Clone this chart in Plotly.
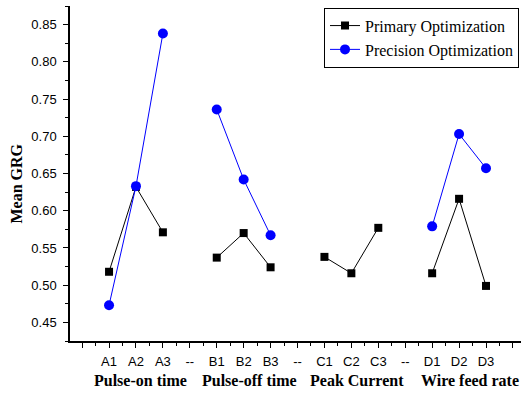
import plotly.graph_objects as go

# ---- data ----
categories = ["A1", "A2", "A3", "--", "B1", "B2", "B3", "--", "C1", "C2", "C3", "--", "D1", "D2", "D3"]
primary = [0.518, 0.632, 0.571, None, 0.537, 0.570, 0.524, None, 0.538, 0.516, 0.577, None, 0.516, 0.616, 0.499]
precision = [0.473, 0.633, 0.838, None, 0.736, 0.642, 0.567, None, None, None, None, None, 0.579, 0.703, 0.657]
group_labels = ["Pulse-on time", "Pulse-off time", "Peak Current", "Wire feed rate"]
group_label_pos = [1.15, 5.2, 9.2, 13.4]
y_ticks = [0.45, 0.50, 0.55, 0.60, 0.65, 0.70, 0.75, 0.80, 0.85]

xs = list(range(len(categories)))
tick_vals = [-1] + xs + [15]
tick_text = [""] + categories + [""]

fig = go.Figure()
fig.add_trace(go.Scatter(
    x=xs, y=primary, mode="lines+markers", name="Primary Optimization",
    line=dict(color="black", width=1),
    marker=dict(symbol="square", size=8, color="black"),
    connectgaps=False,
))
fig.add_trace(go.Scatter(
    x=xs, y=precision, mode="lines+markers", name="Precision Optimization",
    line=dict(color="#0000ff", width=1),
    marker=dict(symbol="circle", size=10, color="#0000ff"),
    connectgaps=False,
))

serif = "Liberation Serif, Times New Roman, serif"
sans = "Liberation Sans, Arial, sans-serif"

for lab, pos in zip(group_labels, group_label_pos):
    fig.add_annotation(
        x=pos, xref="x", y=0, yref="paper", yanchor="middle", yshift=-39,
        text="<b>%s</b>" % lab, showarrow=False,
        font=dict(family=serif, size=16, color="black"),
    )

fig.add_annotation(
    x=0, xref="paper", xanchor="center", xshift=-53, y=0.47, yref="paper", yanchor="middle",
    text="<b>Mean GRG</b>", textangle=-90, showarrow=False,
    font=dict(family=serif, size=16, color="black"),
)

fig.update_layout(
    width=521, height=394,
    margin=dict(l=70, r=0, t=6, b=53),
    paper_bgcolor="white", plot_bgcolor="white",
    showlegend=True,
    legend=dict(
        x=0.9956, y=0.995, xanchor="right", yanchor="top",
        bgcolor="white", bordercolor="black", borderwidth=1,
        font=dict(family=serif, size=16, color="black"),
        tracegroupgap=0, itemwidth=30,
    ),
    xaxis=dict(
        range=[-1.45, 15.3], showgrid=False, zeroline=False,
        showline=True, linecolor="black", linewidth=1.5,
        tickmode="array", tickvals=tick_vals, ticktext=tick_text,
        ticks="outside", ticklen=5, tickwidth=1, tickcolor="black",
        ticklabelstandoff=3,
        minor=dict(tick0=-0.5, dtick=1, ticks="outside", ticklen=3, tickcolor="black", tickwidth=1),
        tickfont=dict(family=sans, size=13, color="black"),
        automargin=False,
    ),
    yaxis=dict(
        range=[0.425, 0.875], showgrid=False, zeroline=False,
        showline=True, linecolor="black", linewidth=1.5,
        tickmode="array", tickvals=y_ticks, ticktext=["%.2f" % v for v in y_ticks],
        ticks="outside", ticklen=5, tickwidth=1, tickcolor="black",
        ticklabelstandoff=4,
        minor=dict(tick0=0.425, dtick=0.05, ticks="outside", ticklen=3, tickcolor="black", tickwidth=1),
        tickfont=dict(family=sans, size=13, color="black"),
        automargin=False,
    ),
)

fig.write_html(
    "out.html",
    config={"displayModeBar": False},
    post_script="document.body.style.margin='0';document.body.style.overflow='hidden';",
)
